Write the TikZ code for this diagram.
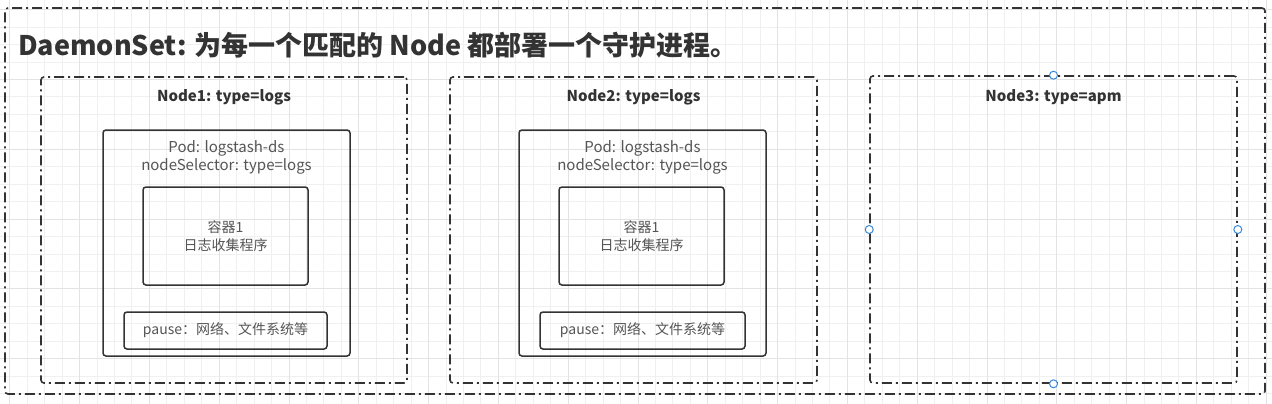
\documentclass[tikz,border=0pt]{standalone}
\usepackage{fontspec}
\setmainfont{Noto Sans CJK SC}
\usetikzlibrary{positioning}
\definecolor{linegray}{HTML}{333333}
\definecolor{textgray}{HTML}{555555}
\definecolor{gridminor}{HTML}{F0F0F0}
\definecolor{gridmajor}{HTML}{E3E3E3}
\definecolor{handleblue}{HTML}{3B8AD9}
\begin{document}
\begin{tikzpicture}[x=1pt,y=-1pt]
\tikzstyle{hostbox} = [draw=linegray, line width=1.6pt, rounded corners=3pt, dash pattern=on 10pt off 4pt on 2pt off 4pt, inner sep=0pt] % dash-dot frame
\tikzstyle{podbox} = [draw=linegray, line width=1.5pt, rounded corners=3pt, inner sep=0pt] % solid box
\tikzstyle{hostlabel} = [font=\bfseries\fontsize{15}{17}\selectfont, text=linegray, inner sep=0pt]
\tikzstyle{podtext} = [font=\fontsize{14}{18}\selectfont, text=textgray, align=center, inner sep=0pt]
\tikzstyle{podhead} = [font=\fontsize{15}{18}\selectfont, text=textgray, align=center, inner sep=0pt]
\tikzstyle{handle} = [circle, draw=handleblue, fill=white, line width=1pt, minimum size=8pt, inner sep=0pt] % selection dot
\useasboundingbox (0,0) rectangle (1272,404);
\fill[white] (0,0) rectangle (1272,404);
% grid
\foreach \k in {0,...,72} \draw[gridminor, line width=0.8pt] (9.7+\k*17.45,0) -- (9.7+\k*17.45,404);
\foreach \k in {0,...,22} \draw[gridminor, line width=0.8pt] (0,9.6+\k*17.45) -- (1272,9.6+\k*17.45);
\foreach \k in {0,4,...,72} \draw[gridmajor, line width=0.8pt] (9.7+\k*17.45,0) -- (9.7+\k*17.45,404);
\foreach \k in {0,4,...,20} \draw[gridmajor, line width=0.8pt] (0,9.6+\k*17.45) -- (1272,9.6+\k*17.45);
% outer frame
\node[hostbox, minimum width=1260pt, minimum height=386pt] (daemonset) at (635,201) {};
\node[anchor=west, font=\bfseries\fontsize{27}{30}\selectfont, text=linegray, inner sep=0pt] (title) at (18,45) {DaemonSet: 为每一个匹配的 Node 都部署一个守护进程。};
% Node1
\node[hostbox, minimum width=366pt, minimum height=306pt] (node1) at (224,230) {};
\node[hostlabel] (node1label) at ([yshift=-21pt]node1.north) {Node1: type=logs};
\node[podbox, minimum width=247pt, minimum height=226pt] (pod1) at (226.5,243) {};
\node[podhead] (pod1text) at ([yshift=-28pt]pod1.north) {Pod: logstash-ds\\nodeSelector: type=logs};
\node[podbox, minimum width=165pt, minimum height=98pt, podtext] (ctr1) at (225.5,236) {容器1\\日志收集程序};
\node[podbox, minimum width=203pt, minimum height=37pt, podtext] (pause1) at (225.5,330.5) {pause：网络、文件系统等};
% Node2
\node[hostbox, minimum width=367pt, minimum height=306pt] (node2) at (633.5,230) {};
\node[hostlabel] (node2label) at ([yshift=-21pt]node2.north) {Node2: type=logs};
\node[podbox, minimum width=247pt, minimum height=226pt] (pod2) at (642.5,243) {};
\node[podhead] (pod2text) at ([yshift=-28pt]pod2.north) {Pod: logstash-ds\\nodeSelector: type=logs};
\node[podbox, minimum width=165pt, minimum height=98pt, podtext] (ctr2) at (641.5,236) {容器1\\日志收集程序};
\node[podbox, minimum width=205pt, minimum height=37pt, podtext] (pause2) at (642.5,330.5) {pause：网络、文件系统等};
% Node3 (selected)
\node[hostbox, minimum width=367pt, minimum height=307pt] (node3) at (1053.5,229.5) {};
\node[hostlabel] (node3label) at ([yshift=-22pt]node3.north) {Node3: type=apm};
\foreach \a in {north,south,west,east} \node[handle] (handle-\a) at (node3.\a) {};
\end{tikzpicture}
\end{document}
